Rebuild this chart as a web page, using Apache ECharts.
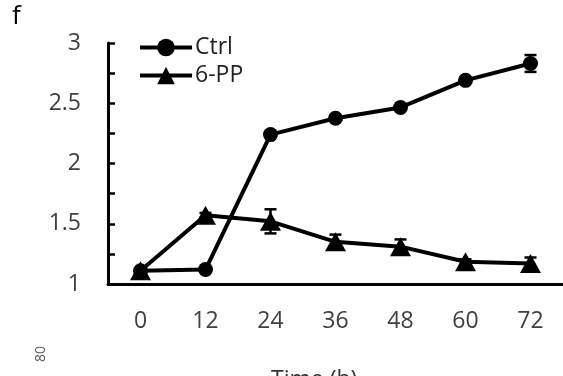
<!DOCTYPE html>
<html>
<head>
<meta charset="utf-8">
<script src="https://cdn.jsdelivr.net/npm/echarts@6/dist/echarts.min.js"></script>
<style>
  html, body { margin: 0; padding: 0; background: #fff; }
  #chart { width: 563px; height: 376px; }
</style>
</head>
<body>
<div id="chart"></div>
<script>
// time points (h)
const hours = ['0', '12', '24', '36', '48', '60', '72'];
// relative values
const ctrl = [1.11, 1.12, 2.24, 2.375, 2.465, 2.69, 2.83];
const ctrlErr = [0.01, 0.01, 0.02, 0.02, 0.02, 0.02, 0.07];
const pp6 = [1.11, 1.57, 1.52, 1.35, 1.31, 1.185, 1.17];
const pp6Err = [0.01, 0.02, 0.1, 0.06, 0.06, 0.02, 0.05];

const font = '"Open Sans", "Liberation Sans", sans-serif';

function errorBars(means, errs) {
    return means.map((m, i) => [i, m - errs[i], m + errs[i]]);
}

function renderErr(params, api) {
    const lo = api.coord([api.value(0), api.value(1)]);
    const hi = api.coord([api.value(0), api.value(2)]);
    const half = 6;
    const style = { stroke: '#000', lineWidth: 2.5 };
    return {
        type: 'group',
        children: [
            { type: 'line', shape: { x1: hi[0], y1: hi[1], x2: lo[0], y2: lo[1] }, style: style },
            { type: 'line', shape: { x1: hi[0] - half, y1: hi[1], x2: hi[0] + half, y2: hi[1] }, style: style },
            { type: 'line', shape: { x1: lo[0] - half, y1: lo[1], x2: lo[0] + half, y2: lo[1] }, style: style }
        ]
    };
}

const chart = echarts.init(document.getElementById('chart'));
chart.setOption({
    backgroundColor: '#fff',
    animation: false,
    grid: { left: 108, top: 43, width: 458, height: 241 },
    legend: {
        orient: 'vertical',
        left: 133,
        top: 31,
        itemWidth: 52,
        itemHeight: 22,
        itemGap: 5,
        data: ['Ctrl', '6-PP'],
        lineStyle: { width: 4 },
        textStyle: { fontFamily: font, fontSize: 23, color: '#222', padding: [0, 0, 0, -2] }
    },
    graphic: [
        { type: 'text', left: 12, top: 4, style: { text: 'f', font: '26px ' + font, fill: '#000' } },
        { type: 'text', left: 271, top: 369, style: { text: 'Time (h)', font: '23px ' + font, fill: '#333' } },
        { type: 'text', x: 34, y: 362, rotation: Math.PI / 2, style: { text: '80', font: '14px ' + font, fill: '#555' } }
    ],
    xAxis: {
        type: 'category',
        data: hours,
        boundaryGap: true,
        axisLine: { lineStyle: { color: '#000', width: 3 } },
        axisTick: { inside: true, length: 7, lineStyle: { color: '#000', width: 2.5 } },
        axisLabel: { margin: 26, fontFamily: font, fontSize: 23, color: '#404040' },
        splitLine: { show: false }
    },
    yAxis: {
        type: 'value',
        min: 1,
        max: 3,
        interval: 0.25,
        axisLine: { show: true, lineStyle: { color: '#000', width: 3 } },
        axisTick: { show: true, inside: true, length: 7, lineStyle: { color: '#000', width: 2.5 } },
        axisLabel: {
            margin: 27,
            fontFamily: font,
            fontSize: 23,
            color: '#404040',
            formatter: v => (Math.abs(v * 2 - Math.round(v * 2)) < 1e-6 ? String(v) : '')
        },
        splitLine: { show: false }
    },
    series: [
        {
            type: 'custom',
            renderItem: renderErr,
            data: errorBars(ctrl, ctrlErr),
            encode: { x: 0, y: [1, 2] },
            z: 1,
            silent: true
        },
        {
            type: 'custom',
            renderItem: renderErr,
            data: errorBars(pp6, pp6Err),
            encode: { x: 0, y: [1, 2] },
            z: 1,
            silent: true
        },
        {
            name: 'Ctrl',
            type: 'line',
            data: ctrl,
            symbol: 'circle',
            symbolSize: 15,
            itemStyle: { color: '#000' },
            lineStyle: { color: '#000', width: 4 },
            z: 3
        },
        {
            name: '6-PP',
            type: 'line',
            data: pp6,
            symbol: 'triangle',
            symbolSize: [21, 19],
            itemStyle: { color: '#000' },
            lineStyle: { color: '#000', width: 4 },
            z: 4
        }
    ]
});
</script>
</body>
</html>
